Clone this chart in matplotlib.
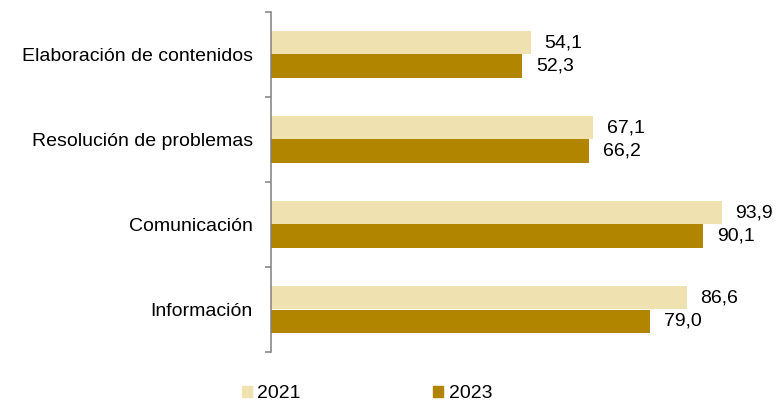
import numpy as np
import matplotlib.pyplot as plt
from matplotlib.patches import Patch

plt.rcParams['font.family'] = ['Liberation Sans', 'DejaVu Sans']

categories = ['Elaboración de contenidos', 'Resolución de problemas',
              'Comunicación', 'Información']
years = ['2021', '2023']
values_2021 = [54.1, 67.1, 93.9, 86.6]
values_2023 = [52.3, 66.2, 90.1, 79.0]
colors = ['#F0E2B0', '#B28500']

fig = plt.figure(figsize=(7.76, 4.01), dpi=100)
ax = fig.add_axes([271 / 776, 1 - 352 / 401, 480 / 776, 340 / 401])

y = np.arange(len(categories))
h = 0.28
for vals, off, col, lab in [(values_2021, -h / 2, colors[0], years[0]),
                            (values_2023, h / 2, colors[1], years[1])]:
    bars = ax.barh(y + off, vals, height=h, color=col, label=lab)
    for b, v in zip(bars, vals):
        ax.annotate(f'{v:.1f}'.replace('.', ','), (b.get_width(), b.get_y() + b.get_height() / 2),
                    xytext=(10, 0), textcoords='offset points', va='center', ha='left',
                    fontsize=14, color='#000000')

ax.set_xlim(0, 100)
ax.set_ylim(3.5, -0.5)
ax.set_yticks(y)
ax.set_yticklabels(categories, fontsize=14)
ax.set_yticks(np.arange(-0.5, 4, 1), minor=True)
ax.tick_params(axis='y', which='major', length=0, pad=13)
ax.tick_params(axis='y', which='minor', length=4, width=1.1, color='#808080')
ax.set_xticks([])
for s in ['top', 'right', 'bottom']:
    ax.spines[s].set_visible(False)
ax.spines['left'].set_color('#808080')
ax.spines['left'].set_linewidth(1.1)

handles = [Patch(color=c) for c in colors]
fig.legend(handles, years, loc='center', bbox_to_anchor=(367 / 776, 1 - 394 / 401),
           ncol=2, frameon=False, fontsize=14, handlelength=0.5, handleheight=0.5,
           handletextpad=0.3, columnspacing=6.8)

fig.savefig('out.png', dpi=100)
